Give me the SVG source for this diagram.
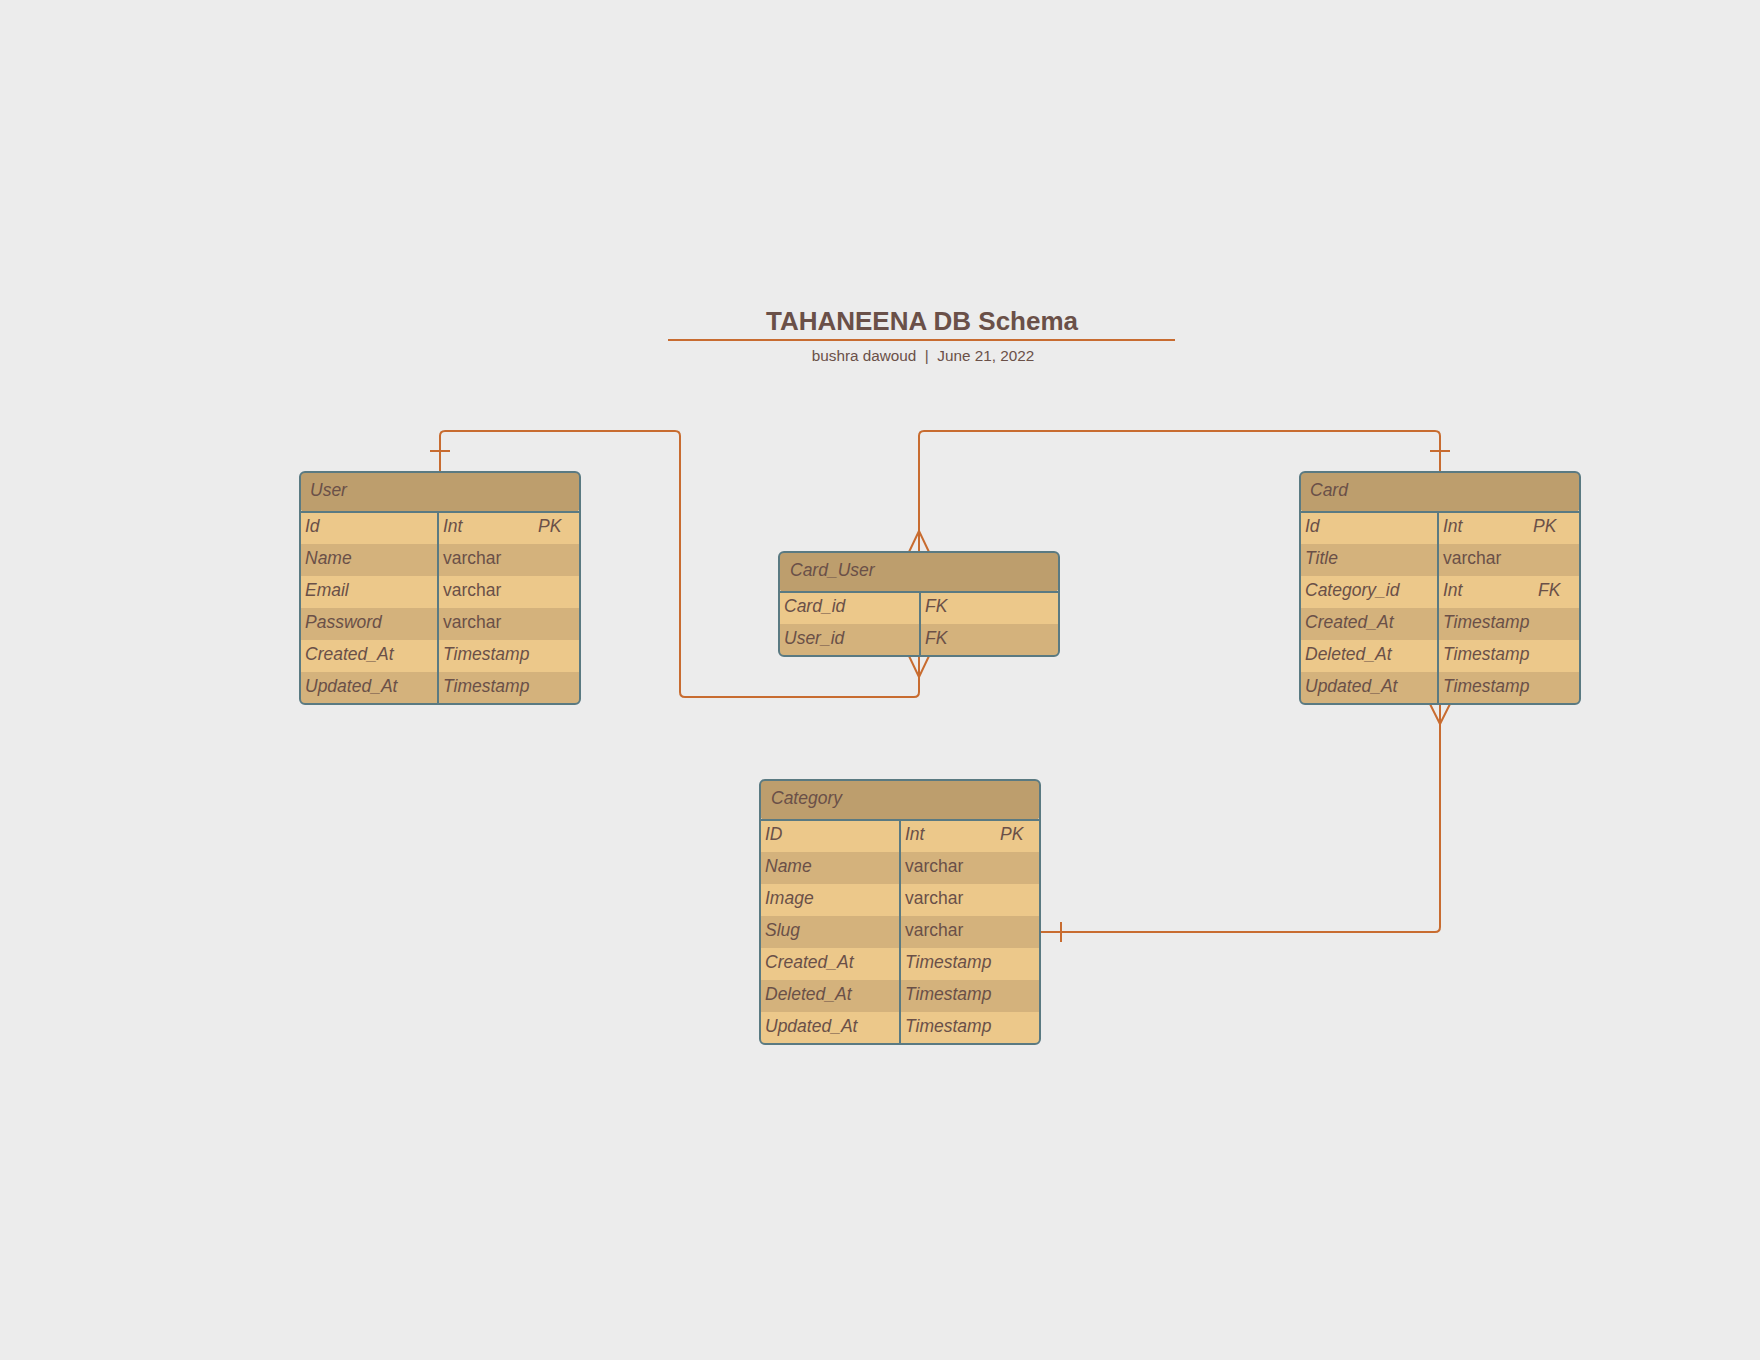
<svg xmlns="http://www.w3.org/2000/svg" width="1760" height="1360" viewBox="0 0 1760 1360">
<style>
.bg{fill:#ececec}
.hdr{fill:#bd9e6d}
.lt{fill:#ecc88a}
.dk{fill:#d4b27c}
.frame{fill:none;stroke:#5a7a82;stroke-width:2}
.div{stroke:#5a7a82;stroke-width:2}
.t{font-family:"Liberation Sans",Arial,sans-serif;font-size:17.5px;fill:#6a5048}
.i{font-style:italic}
.h{font-family:"Liberation Sans",Arial,sans-serif;font-size:17.5px;font-style:italic;fill:#6a5048}
.title{font-family:"Liberation Sans",Arial,sans-serif;font-size:26px;font-weight:bold;fill:#6a5048}
.sub{font-family:"Liberation Sans",Arial,sans-serif;font-size:15.3px;fill:#6a5048}
.c{fill:none;stroke:#c86c30;stroke-width:2;stroke-linejoin:round}
</style>
<rect class="bg" x="0" y="0" width="1760" height="1360"/>

<g id="title">
<text class="title" x="922" y="330" text-anchor="middle">TAHANEENA DB Schema</text>
<line x1="668" y1="340" x2="1175" y2="340" stroke="#c86c30" stroke-width="2"/>
<text class="sub" x="923" y="361" text-anchor="middle" xml:space="preserve">bushra dawoud  |  June 21, 2022</text>
</g>

<g id="connectors">
<path class="c" d="M440,472 V436 Q440,431 445,431 H675 Q680,431 680,436 V692 Q680,697 685,697 H914 Q919,697 919,692 V656"/>
<line class="c" x1="430" y1="451" x2="450" y2="451"/>
<path class="c" d="M909,656 L919,677 L929,656"/>
<path class="c" d="M1440,472 V436 Q1440,431 1435,431 H924 Q919,431 919,436 V552"/>
<line class="c" x1="1430" y1="451" x2="1450" y2="451"/>
<path class="c" d="M909,552 L919,531 L929,552"/>
<path class="c" d="M1440,704 V927 Q1440,932 1435,932 H1040"/>
<path class="c" d="M1430,704 L1440,724 L1450,704"/>
<line class="c" x1="1061" y1="922" x2="1061" y2="942"/>
</g>

<g id="user">
<rect class="hdr" x="300" y="472" width="280" height="40" rx="5"/>
<rect class="lt" x="300" y="512" width="280" height="32"/>
<rect class="dk" x="300" y="544" width="280" height="32"/>
<rect class="lt" x="300" y="576" width="280" height="32"/>
<rect class="dk" x="300" y="608" width="280" height="32"/>
<rect class="lt" x="300" y="640" width="280" height="32"/>
<path class="dk" d="M300,672 H580 V699 Q580,704 575,704 H305 Q300,704 300,699 Z"/>
<line class="div" x1="300" y1="512" x2="580" y2="512"/>
<line class="div" x1="438" y1="512" x2="438" y2="704"/>
<rect class="frame" x="300" y="472" width="280" height="232" rx="5"/>
<text class="h" x="310" y="496">User</text>
<text class="t i" x="305" y="532">Id</text><text class="t i" x="443" y="532">Int</text><text class="t i" x="538" y="532">PK</text>
<text class="t i" x="305" y="564">Name</text><text class="t" x="443" y="564">varchar</text>
<text class="t i" x="305" y="596">Email</text><text class="t" x="443" y="596">varchar</text>
<text class="t i" x="305" y="628">Password</text><text class="t" x="443" y="628">varchar</text>
<text class="t i" x="305" y="660">Created_At</text><text class="t i" x="443" y="660">Timestamp</text>
<text class="t i" x="305" y="692">Updated_At</text><text class="t i" x="443" y="692">Timestamp</text>
</g>

<g id="card_user">
<rect class="hdr" x="779" y="552" width="280" height="40" rx="5"/>
<rect class="lt" x="779" y="592" width="280" height="32"/>
<path class="dk" d="M779,624 H1059 V651 Q1059,656 1054,656 H784 Q779,656 779,651 Z"/>
<line class="div" x1="779" y1="592" x2="1059" y2="592"/>
<line class="div" x1="920" y1="592" x2="920" y2="656"/>
<rect class="frame" x="779" y="552" width="280" height="104" rx="5"/>
<text class="h" x="790" y="576">Card_User</text>
<text class="t i" x="784" y="612">Card_id</text><text class="t i" x="925" y="612">FK</text>
<text class="t i" x="784" y="644">User_id</text><text class="t i" x="925" y="644">FK</text>
</g>

<g id="card">
<rect class="hdr" x="1300" y="472" width="280" height="40" rx="5"/>
<rect class="lt" x="1300" y="512" width="280" height="32"/>
<rect class="dk" x="1300" y="544" width="280" height="32"/>
<rect class="lt" x="1300" y="576" width="280" height="32"/>
<rect class="dk" x="1300" y="608" width="280" height="32"/>
<rect class="lt" x="1300" y="640" width="280" height="32"/>
<path class="dk" d="M1300,672 H1580 V699 Q1580,704 1575,704 H1305 Q1300,704 1300,699 Z"/>
<line class="div" x1="1300" y1="512" x2="1580" y2="512"/>
<line class="div" x1="1438" y1="512" x2="1438" y2="704"/>
<rect class="frame" x="1300" y="472" width="280" height="232" rx="5"/>
<text class="h" x="1310" y="496">Card</text>
<text class="t i" x="1305" y="532">Id</text><text class="t i" x="1443" y="532">Int</text><text class="t i" x="1533" y="532">PK</text>
<text class="t i" x="1305" y="564">Title</text><text class="t" x="1443" y="564">varchar</text>
<text class="t i" x="1305" y="596">Category_id</text><text class="t i" x="1443" y="596">Int</text><text class="t i" x="1538" y="596">FK</text>
<text class="t i" x="1305" y="628">Created_At</text><text class="t i" x="1443" y="628">Timestamp</text>
<text class="t i" x="1305" y="660">Deleted_At</text><text class="t i" x="1443" y="660">Timestamp</text>
<text class="t i" x="1305" y="692">Updated_At</text><text class="t i" x="1443" y="692">Timestamp</text>
</g>

<g id="category">
<rect class="hdr" x="760" y="780" width="280" height="40" rx="5"/>
<rect class="lt" x="760" y="820" width="280" height="32"/>
<rect class="dk" x="760" y="852" width="280" height="32"/>
<rect class="lt" x="760" y="884" width="280" height="32"/>
<rect class="dk" x="760" y="916" width="280" height="32"/>
<rect class="lt" x="760" y="948" width="280" height="32"/>
<rect class="dk" x="760" y="980" width="280" height="32"/>
<path class="lt" d="M760,1012 H1040 V1039 Q1040,1044 1035,1044 H765 Q760,1044 760,1039 Z"/>
<line class="div" x1="760" y1="820" x2="1040" y2="820"/>
<line class="div" x1="900" y1="820" x2="900" y2="1044"/>
<rect class="frame" x="760" y="780" width="280" height="264" rx="5"/>
<text class="h" x="771" y="804">Category</text>
<text class="t i" x="765" y="840">ID</text><text class="t i" x="905" y="840">Int</text><text class="t i" x="1000" y="840">PK</text>
<text class="t i" x="765" y="872">Name</text><text class="t" x="905" y="872">varchar</text>
<text class="t i" x="765" y="904">Image</text><text class="t" x="905" y="904">varchar</text>
<text class="t i" x="765" y="936">Slug</text><text class="t" x="905" y="936">varchar</text>
<text class="t i" x="765" y="968">Created_At</text><text class="t i" x="905" y="968">Timestamp</text>
<text class="t i" x="765" y="1000">Deleted_At</text><text class="t i" x="905" y="1000">Timestamp</text>
<text class="t i" x="765" y="1032">Updated_At</text><text class="t i" x="905" y="1032">Timestamp</text>
</g>
</svg>
